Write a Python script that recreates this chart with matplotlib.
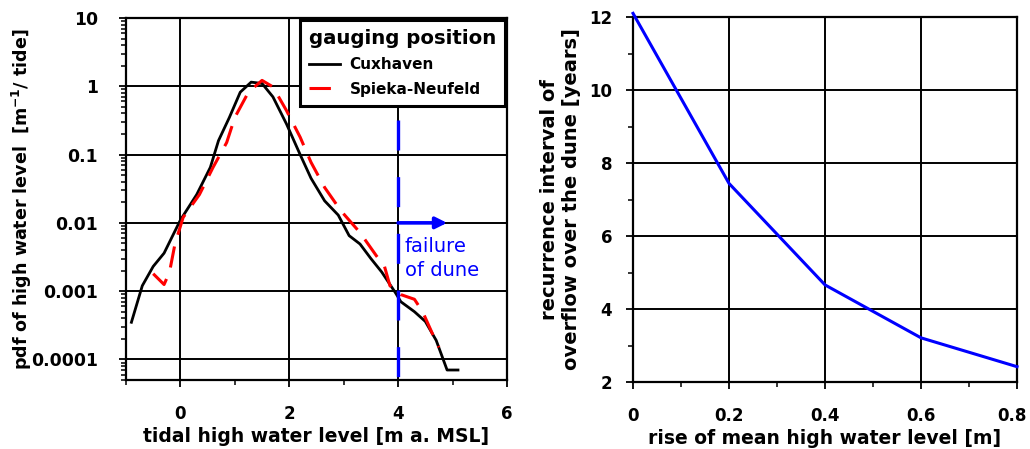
"""Water level pdf at two gauges and recurrence interval of dune overflow."""

import matplotlib

matplotlib.use("Agg")
import matplotlib.pyplot as plt
from matplotlib.transforms import ScaledTranslation
from matplotlib.ticker import LogLocator, MultipleLocator, NullFormatter

plt.rcParams["font.family"] = ["DejaVu Sans"]
plt.rcParams["font.weight"] = "bold"
plt.rcParams["axes.labelweight"] = "bold"
plt.rcParams["mathtext.fontset"] = "dejavusans"
plt.rcParams["mathtext.default"] = "bf"

# left panel: pdf of tidal high water level
cux_level = [-0.9, -0.7, -0.5, -0.3, 0.0, 0.3, 0.55, 0.7, 0.9, 1.1, 1.3, 1.5,
             1.7, 1.95, 2.2, 2.4, 2.65, 2.9, 3.1, 3.3, 3.5, 3.7, 3.95, 4.05,
             4.3, 4.5, 4.7, 4.9, 5.1]
cux_pdf = [3.5e-4, 1.2e-3, 2.3e-3, 3.6e-3, 0.011, 0.026, 0.065, 0.16, 0.35,
           0.82, 1.15, 1.1, 0.7, 0.28, 0.1, 0.045, 0.021, 0.013, 0.0065,
           0.0049, 0.003, 0.0019, 9.5e-4, 7e-4, 5e-4, 3.6e-4, 1.9e-4, 7e-5,
           7e-5]
spk_level = [-0.5, -0.3, -0.2, -0.1, 0.05, 0.35, 0.6, 0.85, 1.0, 1.25, 1.5,
             1.7, 1.95, 2.2, 2.4, 2.65, 2.95, 3.3, 3.6, 3.75, 3.85, 4.05, 4.3,
             4.45, 4.65, 4.75]
spk_pdf = [1.8e-3, 1.25e-3, 1.9e-3, 4.9e-3, 0.012, 0.026, 0.065, 0.15, 0.35,
           0.82, 1.22, 0.98, 0.44, 0.18, 0.077, 0.033, 0.015, 0.0072, 0.0033,
           0.0023, 0.0012, 8.9e-4, 7.6e-4, 5e-4, 2.2e-4, 1.5e-4]
dune_crest = 4.0
dune_marker_top = 0.32
arrow_level = 0.01
arrow_end = 4.9

# right panel: recurrence interval vs rise of mean high water
rise = [0.0, 0.2, 0.4, 0.6, 0.8]
recurrence = [12.1, 7.44, 4.66, 3.21, 2.42]

fig = plt.figure(figsize=(10.3, 4.49), dpi=100)
ax1 = fig.add_axes([0.1223, 0.1537, 0.3699, 0.8062])
ax2 = fig.add_axes([0.6146, 0.1492, 0.3728, 0.8129])

ax1.set_yscale("log")
ax1.plot(cux_level, cux_pdf, color="black", lw=2.0, label="Cuxhaven", zorder=3)
ax1.plot(spk_level, spk_pdf, color="red", lw=2.2, dashes=(7, 4),
         label="Spieka-Neufeld", zorder=3)
ax1.plot([dune_crest, dune_crest], [dune_marker_top, 5e-5], color="blue",
         lw=2.4, dashes=(9, 8), zorder=4)
ax1.annotate("", xy=(arrow_end, arrow_level), xytext=(dune_crest, arrow_level),
             arrowprops=dict(arrowstyle="-|>", color="blue", lw=2.6,
                             mutation_scale=17, shrinkA=0, shrinkB=0),
             zorder=4)
ax1.text(4.12, 0.0062, "failure\nof dune", color="blue", fontsize=14,
         fontweight="normal", va="top", ha="left", linespacing=1.3)

ax1.set_xlim(-1, 6)
ax1.set_ylim(5e-5, 10)
ax1.xaxis.set_major_locator(MultipleLocator(2))
ax1.xaxis.set_minor_locator(MultipleLocator(1))
ax1.yaxis.set_minor_locator(LogLocator(base=10, subs=range(2, 10), numticks=20))
ax1.yaxis.set_minor_formatter(NullFormatter())
ax1.set_yticks([1e-4, 1e-3, 1e-2, 1e-1, 1, 10])
ax1.set_yticklabels(["0.0001", "0.001", "0.01", "0.1", "1", "10"])
ax1.set_xlabel("tidal high water level [m a. MSL]", fontsize=13.5, labelpad=3)
ax1.set_ylabel(r"pdf of high water level  [m$^{-1}$/ tide]", fontsize=12.6,
               labelpad=-2)

leg = ax1.legend(title="gauging position", loc="upper right",
                 borderaxespad=0.1, fancybox=False, framealpha=1,
                 edgecolor="black", prop={"size": 11, "weight": "bold"},
                 title_fontproperties={"size": 14.2, "weight": "bold"},
                 handlelength=2.0, handletextpad=0.65, labelspacing=0.62,
                 borderpad=0.6)
leg.get_frame().set_linewidth(2.2)
leg._legend_box.align = "left"
leg.set_zorder(5)

ax2.plot(rise, recurrence, color="blue", lw=2.2, clip_on=False, zorder=3)
ax2.set_xlim(0, 0.8)
ax2.set_ylim(2, 12)
ax2.xaxis.set_major_locator(MultipleLocator(0.2))
ax2.xaxis.set_minor_locator(MultipleLocator(0.1))
ax2.yaxis.set_major_locator(MultipleLocator(2))
ax2.yaxis.set_minor_locator(MultipleLocator(1))
ax2.set_xticks([0, 0.2, 0.4, 0.6, 0.8])
ax2.set_xticklabels(["0", "0.2", "0.4", "0.6", "0.8"])
ax2.set_xlabel("rise of mean high water level [m]", fontsize=13.5, labelpad=3)
ax2.set_ylabel("recurrence interval of\noverflow over the dune [years]",
               fontsize=14, labelpad=6, linespacing=1.15)

for ax in (ax1, ax2):
    ax.grid(True, which="major", color="black", lw=1.4)
    ax.set_axisbelow(True)
    for s in ax.spines.values():
        s.set_linewidth(1.6)
    ax.tick_params(which="major", direction="out", length=5, width=1.3,
                   labelsize=12, pad=13)
    ax.tick_params(which="minor", direction="out", length=3.5, width=1.1)
ax1.tick_params(axis="y", which="major", labelsize=12.4, pad=15)
ax2.tick_params(axis="y", which="major", pad=10)

# keep the last x tick label inside the canvas
last = ax2.get_xticklabels()[-1]
last.set_transform(last.get_transform()
                   + ScaledTranslation(-4 / 72, 0, fig.dpi_scale_trans))

fig.savefig("out.png", dpi=100)
